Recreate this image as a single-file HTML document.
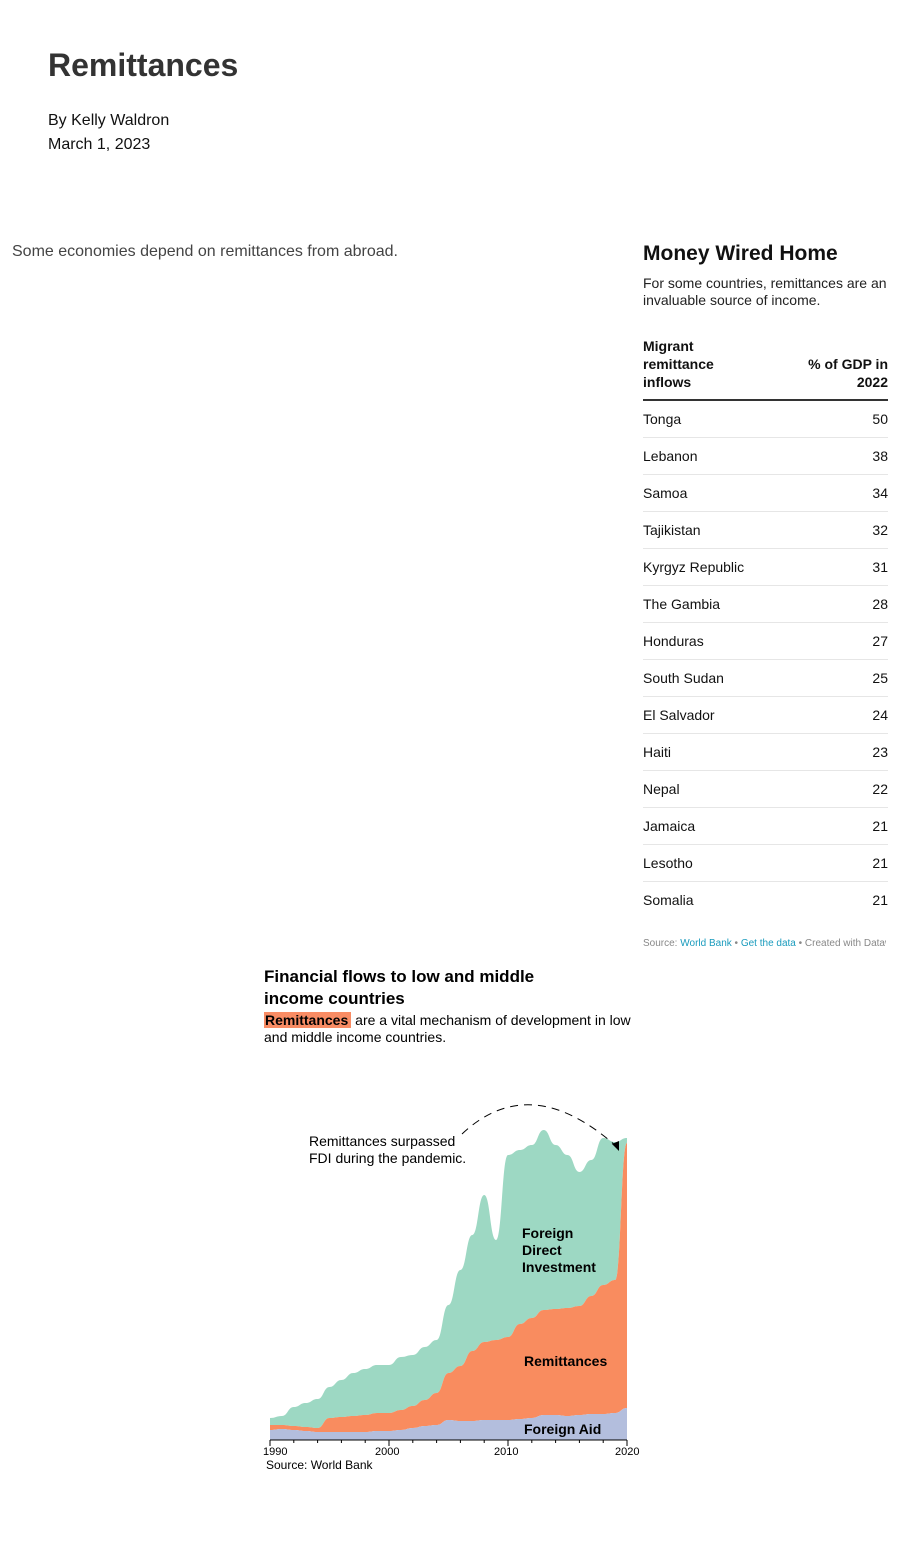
<!DOCTYPE html>
<html><head><meta charset="utf-8">
<style>
body{margin:0;width:900px;height:1556px;background:#fff;font-family:"Liberation Sans",sans-serif;position:relative;overflow:hidden}
.abs{position:absolute}
h1{position:absolute;left:48px;top:47px;margin:0;font-size:32px;font-weight:bold;color:#333}
.by{left:48px;top:109px;font-size:16px;color:#111;line-height:24px}
.intro{left:12px;top:243px;font-size:16px;color:#444}
.tbl{left:643px;top:242px;width:245px;color:#111}
.tbl h2{margin:0;font-size:21px;font-weight:bold}
.tbl .sub{font-size:14px;line-height:17px;margin-top:9px;color:#222}
.hdr{margin-top:28px;display:flex;justify-content:space-between;font-weight:bold;font-size:14px;line-height:18px;border-bottom:2px solid #333;padding-bottom:8px}
.row{display:flex;justify-content:space-between;font-size:14px;height:36px;line-height:36px;border-bottom:1px solid #e6e6e6}
.row:last-child{border-bottom:none}
.src{left:643px;top:938px;font-size:10px;color:#888;white-space:nowrap;width:243px;overflow:hidden;height:11px}
.src span{color:#1a9bbd}
.ct{left:264px;top:966px;font-size:17px;font-weight:bold;line-height:22px;color:#000}
.cs{left:264px;top:1012px;font-size:14px;line-height:17px;width:370px;color:#000}
.hl{background:#f98c64;font-weight:bold;padding:0 3px 0 1px}
</style></head><body>
<h1>Remittances</h1>
<div class="abs by">By Kelly Waldron<br>March 1, 2023</div>
<div class="abs intro">Some economies depend on remittances from abroad.</div>
<div class="abs tbl">
<h2>Money Wired Home</h2>
<div class="sub">For some countries, remittances are an invaluable source of income.</div>
<div class="hdr"><div>Migrant<br>remittance<br>inflows</div><div style="text-align:right;align-self:flex-end">% of GDP in<br>2022</div></div>
<div id="rows"></div>
</div>
<div class="abs src">Source: <span>World Bank</span> • <span>Get the data</span> • Created with Datawrapper</div>
<div class="abs ct">Financial flows to low and middle<br>income countries</div>
<div class="abs cs"><span class="hl">Remittances</span> are a vital mechanism of development in low and middle income countries.</div>
<svg class="abs" style="left:0;top:0" width="900" height="1556" id="chart"></svg>
<script>
const countries=["Tonga","Lebanon","Samoa","Tajikistan","Kyrgyz Republic","The Gambia","Honduras","South Sudan","El Salvador","Haiti","Nepal","Jamaica","Lesotho","Somalia"];
const pct=[50,38,34,32,31,28,27,25,24,23,22,21,21,21];
const rows=document.getElementById('rows');
countries.forEach((c,i)=>{const d=document.createElement('div');d.className='row';


d.innerHTML='<span>'+c+'</span><span>'+pct[i]+'</span>';rows.appendChild(d);});

const years=[1990,1991,1992,1993,1994,1995,1996,1997,1998,1999,2000,2001,2002,2003,2004,2005,2006,2007,2008,2009,2010,2011,2012,2013,2014,2015,2016,2017,2018,2019,2020];
const aid=[20,22,20,18,16,16,16,16,16,18,18,20,24,28,30,40,38,38,40,40,40,42,44,50,50,48,50,52,52,54,64];
const remit=[10,8,8,8,8,28,30,32,34,36,36,40,44,52,64,94,110,140,156,160,166,190,200,210,212,216,218,236,258,266,530];
const fdi=[14,18,38,48,58,62,74,86,92,96,96,106,102,106,106,136,192,232,294,200,364,348,346,360,328,306,268,272,294,276,10];
const xTicks=[1990,2000,2010,2020];
const svg=document.getElementById('chart');const NS='http://www.w3.org/2000/svg';
const x=y=>270+(y-1990)*(627-270)/30;const yv=v=>1440-v/2;
function mk(t,a){const e=document.createElementNS(NS,t);for(const k in a)e.setAttribute(k,a[k]);svg.appendChild(e);return e;}
function smooth(pts){let d='';for(let i=0;i<pts.length;i++){const[px,py]=pts[i];if(i==0){d+='M'+px+','+py;continue;}const[qx,qy]=pts[i-1];const mx=(qx+px)/2;d+=' C'+mx+','+qy+' '+mx+','+py+' '+px+','+py;}return d;}
function area(lo,hi,color,name){const top=years.map((y,i)=>[x(y),yv(hi[i])]);const bot=years.map((y,i)=>[x(y),yv(lo[i])]).reverse();
const sb=smooth(bot);
let d=smooth(top)+' L'+bot[0][0]+','+bot[0][1]+sb.slice(sb.indexOf(' C'))+' Z';
const p=mk('path',{d:d,fill:color});

}
const c0=years.map(()=>0),c1=aid.slice(),c2=aid.map((a,i)=>a+remit[i]),c3=c2.map((a,i)=>a+fdi[i]);
area(c2,c3,'#9dd8c3','fdi-area');area(c1,c2,'#f98c5f','remittances-area');area(c0,c1,'#b3bedd','aid-area');
mk('line',{x1:270,x2:627,y1:1440,y2:1440,stroke:'#000','stroke-width':1});
for(let y=1990;y<=2020;y+=2){mk('line',{x1:x(y),x2:x(y),y1:1440,y2:y%10==0?1446:1443,stroke:'#000'});}
xTicks.forEach(v=>{const t=mk('text',{x:x(v)+(v==1990?-7:v==2020?-12:-14),y:1455,'font-size':11,fill:'#000'});t.textContent=v;

});
function lab(s,xx,yy,b,name){const t=mk('text',{x:xx,y:yy,'font-size':14,'font-weight':b?'bold':'normal',fill:'#000'});t.textContent=s;

}
lab('Foreign',522,1238,1,'fdi-label');lab('Direct',522,1255,1,'fdi-label');lab('Investment',522,1272,1,'fdi-label');
lab('Remittances',524,1366,1,'remittances-label');lab('Foreign Aid',524,1434,1,'aid-label');
lab('Remittances surpassed',309,1146,0,'annotation');lab('FDI during the pandemic.',309,1163,0,'annotation');
const s=mk('text',{x:266,y:1469,'font-size':12,fill:'#000'});s.textContent='Source: World Bank';


mk('path',{d:'M462,1134 Q530,1070 616,1146',fill:'none',stroke:'#000','stroke-width':1,'stroke-dasharray':'8,6'});
mk('path',{d:'M612,1144 L619,1151 L619,1141 Z',fill:'#000'});
</script>
</body></html>
